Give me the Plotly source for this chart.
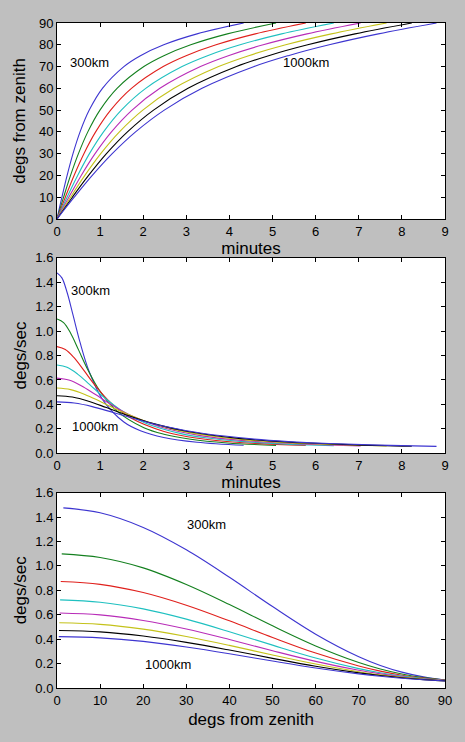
#!/usr/bin/env python3
"""Overhead satellite pass: zenith angle and angular rate for 300-1000 km orbits."""
import plotly.graph_objects as go

altitudes_km = [300, 400, 500, 600, 700, 800, 900, 1000]
line_colors = ["#3d35d0", "#14801f", "#e0201c", "#1fc0c0", "#b82cb8", "#c4c21a", "#000000", "#3d35d0"]

# zenith angle samples shared by every curve (degrees)
zenith_deg = [0, 10, 20, 30, 40, 50, 60, 70, 75, 80, 85, 90]

# time since overhead (minutes) at each zenith sample
minutes_300 = [0.0, 0.114, 0.235, 0.371, 0.535, 0.748, 1.054, 1.551, 1.935, 2.476, 3.248, 4.330]
minutes_400 = [0.0, 0.153, 0.314, 0.497, 0.715, 0.996, 1.393, 2.015, 2.478, 3.102, 3.951, 5.081]
minutes_500 = [0.0, 0.193, 0.396, 0.624, 0.896, 1.244, 1.727, 2.464, 2.994, 3.689, 4.599, 5.771]
minutes_600 = [0.0, 0.233, 0.479, 0.753, 1.079, 1.492, 2.058, 2.901, 3.491, 4.247, 5.211, 6.421]
minutes_700 = [0.0, 0.274, 0.562, 0.883, 1.263, 1.741, 2.387, 3.328, 3.974, 4.784, 5.797, 7.043]
minutes_800 = [0.0, 0.315, 0.646, 1.015, 1.448, 1.990, 2.714, 3.749, 4.446, 5.305, 6.363, 7.645]
minutes_900 = [0.0, 0.357, 0.732, 1.147, 1.634, 2.239, 3.039, 4.164, 4.908, 5.815, 6.914, 8.230]
minutes_1000 = [0.0, 0.399, 0.818, 1.281, 1.822, 2.489, 3.364, 4.574, 5.364, 6.314, 7.454, 8.803]

# apparent angular rate (degs/sec) at each zenith sample
rate_300 = [1.476, 1.435, 1.315, 1.132, 0.907, 0.667, 0.441, 0.256, 0.185, 0.130, 0.091, 0.066]
rate_400 = [1.099, 1.069, 0.984, 0.848, 0.684, 0.509, 0.345, 0.209, 0.156, 0.115, 0.085, 0.065]
rate_500 = [0.873, 0.849, 0.782, 0.678, 0.550, 0.414, 0.286, 0.180, 0.138, 0.105, 0.081, 0.064]
rate_600 = [0.722, 0.703, 0.648, 0.564, 0.461, 0.351, 0.246, 0.159, 0.125, 0.098, 0.077, 0.062]
rate_700 = [0.615, 0.599, 0.553, 0.483, 0.397, 0.305, 0.218, 0.145, 0.116, 0.092, 0.074, 0.061]
rate_800 = [0.534, 0.521, 0.482, 0.422, 0.349, 0.270, 0.196, 0.133, 0.108, 0.087, 0.072, 0.060]
rate_900 = [0.471, 0.460, 0.426, 0.374, 0.311, 0.243, 0.178, 0.124, 0.102, 0.084, 0.069, 0.058]
rate_1000 = [0.421, 0.411, 0.382, 0.336, 0.281, 0.221, 0.164, 0.116, 0.096, 0.080, 0.067, 0.057]

# the rate-vs-angle curves begin after the first second of motion
first_sec_zenith = [1.47, 1.10, 0.87, 0.72, 0.61, 0.53, 0.47, 0.42]

minutes_all = [minutes_300, minutes_400, minutes_500, minutes_600,
               minutes_700, minutes_800, minutes_900, minutes_1000]
rates_all = [rate_300, rate_400, rate_500, rate_600,
             rate_700, rate_800, rate_900, rate_1000]

FONT = "Liberation Sans, Arial, Helvetica, sans-serif"
PAGE_BG = "#bfbfbf"

fig = go.Figure()

for alt, color, mins, rates, z0 in zip(altitudes_km, line_colors, minutes_all, rates_all, first_sec_zenith):
    line = dict(color=color, width=1.1, shape="spline")
    fig.add_trace(go.Scatter(x=mins, y=zenith_deg, mode="lines", line=line,
                             name=f"{alt}km", showlegend=False, xaxis="x", yaxis="y"))
    fig.add_trace(go.Scatter(x=mins, y=rates, mode="lines", line=line,
                             name=f"{alt}km", showlegend=False, xaxis="x2", yaxis="y2"))
    fig.add_trace(go.Scatter(x=[z0] + zenith_deg[1:], y=rates, mode="lines", line=line,
                             name=f"{alt}km", showlegend=False, xaxis="x3", yaxis="y3"))


def axis(rng, dtick, title, fmt=None, standoff=None, **kw):
    d = dict(
        range=rng, dtick=dtick, tick0=0, showline=True, linecolor="black", linewidth=1,
        mirror="allticks", ticks="inside", ticklen=4, tickwidth=1, tickcolor="black",
        showgrid=False, zeroline=False, tickfont=dict(size=13, color="black"),
        title=dict(text=title, font=dict(size=17, color="black")),
    )
    if fmt:
        d["tickformat"] = fmt
    if standoff is not None:
        d["title"]["standoff"] = standoff
    d.update(kw)
    return d


fig.update_layout(
    width=465,
    height=742,
    autosize=False,
    paper_bgcolor=PAGE_BG,
    plot_bgcolor="white",
    font=dict(family=FONT, size=13, color="black"),
    margin=dict(l=57, r=20, t=23, b=54, pad=0),
    xaxis=axis([0, 9], 1, "minutes", anchor="y", domain=[0, 1], standoff=2),
    yaxis=axis([0, 90], 10, "degs from zenith", anchor="x", domain=[0.7053, 1.0], standoff=8),
    xaxis2=axis([0, 9], 1, "minutes", anchor="y2", domain=[0, 1], standoff=4),
    yaxis2=axis([0, 1.6], 0.2, "degs/sec", fmt=".1f", anchor="x2", domain=[0.3529, 0.6471], standoff=4),
    xaxis3=axis([0, 90], 10, "degs from zenith", anchor="y3", domain=[0, 1], standoff=6),
    yaxis3=axis([0, 1.6], 0.2, "degs/sec", fmt=".1f", anchor="x3", domain=[0, 0.2937], standoff=4),
)

labels = [
    ("x", "y", 0.28, 71.7, "300km"),
    ("x", "y", 5.21, 72.0, "1000km"),
    ("x2", "y2", 0.29, 1.33, "300km"),
    ("x2", "y2", 0.32, 0.223, "1000km"),
    ("x3", "y3", 29.9, 1.336, "300km"),
    ("x3", "y3", 20.2, 0.19, "1000km"),
]
for xr, yr, x, y, text in labels:
    fig.add_annotation(x=x, y=y, xref=xr, yref=yr, text=text, showarrow=False,
                       xanchor="left", yanchor="middle", borderpad=0,
                       font=dict(size=13, color="black", family=FONT))

# drop the browser's default body margin so the figure fills the window
page_css = (
    "document.body.style.margin='0';"
    "document.body.style.padding='0';"
    "document.body.style.overflow='hidden';"
    f"document.body.style.background='{PAGE_BG}';"
)
fig.write_html("out.html", post_script=page_css, config={"displayModeBar": False})
